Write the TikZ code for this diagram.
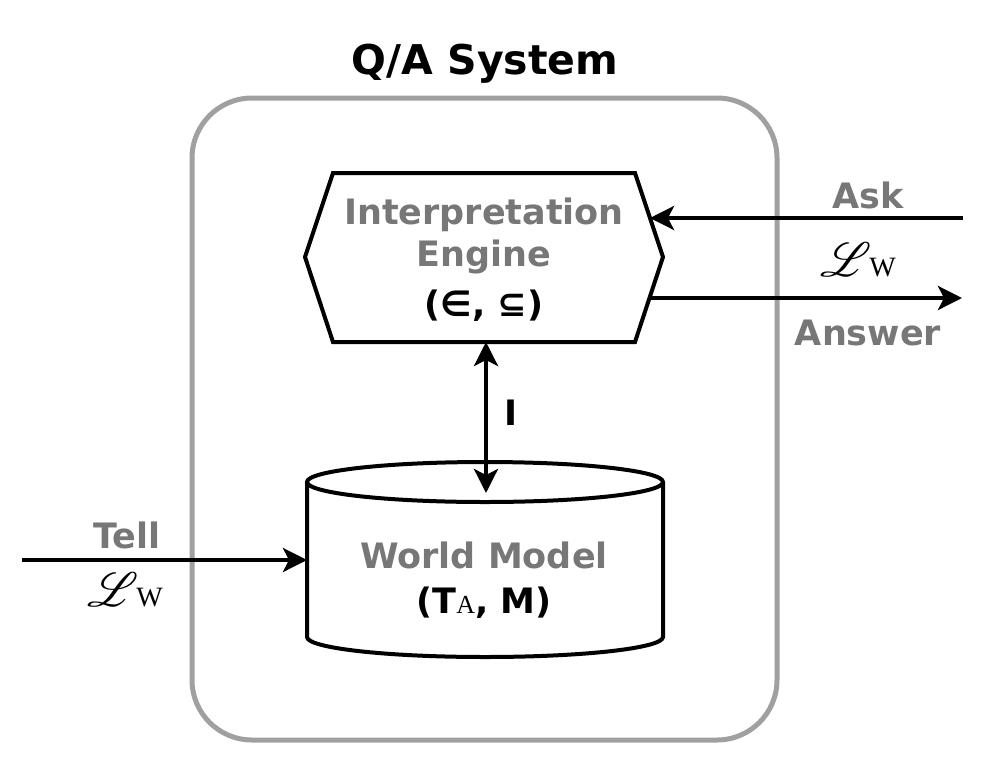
\documentclass[tikz,border=0pt]{standalone}
\usepackage{fontspec}
\usepackage{mathrsfs}
\usepackage{graphicx}
\setmainfont{DejaVu Sans}
\newfontfamily\serifw{Liberation Serif}
\usetikzlibrary{arrows.meta}
\definecolor{txtgray}{HTML}{777777}
\definecolor{boxgray}{HTML}{A0A0A0}
\tikzset{
  conn/.style={line width=2pt, -{Stealth[length=12pt,width=12pt,inset=3pt]}},
  biconn/.style={line width=2pt, {Stealth[length=12pt,width=12pt,inset=3pt]}-{Stealth[length=12pt,width=12pt,inset=3pt]}},
  shapeline/.style={line width=2pt, line join=miter},
  lbl/.style={font=\bfseries\fontsize{17.5}{21}\selectfont, text=txtgray, anchor=base, inner sep=0pt},
  blk/.style={font=\bfseries\fontsize{17.5}{21}\selectfont, text=black, anchor=base, inner sep=0pt},
  titlestyle/.style={font=\bfseries\fontsize{20.5}{24}\selectfont, text=black, anchor=base, inner sep=0pt},
  lang/.style={anchor=base, inner sep=0pt},
}
\newcommand{\LW}{\scalebox{2.4}{$\mathscr{L}$}\kern-1pt{\serifw\fontsize{14}{14}\selectfont W}}
\begin{document}
\begin{tikzpicture}[x=0.5pt,y=-0.5pt]
\useasboundingbox (0,0) rectangle (998,762);
% outer system box
\draw[boxgray, line width=2.5pt, rounded corners=30pt] (192,98) rectangle (777,740);
\node[titlestyle] (title) at (485,74) {Q/A System};
% interpretation engine (hexagon)
\draw[shapeline] (333,173) -- (635,173) -- (663,257) -- (635,342) -- (333,342) -- (305,257) -- cycle;
\node[lbl] (ie1) at (484,224) {Interpretation};
\node[lbl] (ie2) at (484,266) {Engine};
\node[blk] (ie3) at (484,316) {(∈, ⊆)};
% world model (cylinder)
\draw[shapeline] (307,482) -- (307,637) arc[start angle=180,end angle=0,x radius=178,y radius=20] -- (663,482);
\draw[shapeline] (485,482) ellipse[x radius=178, y radius=20];
\node[lbl] (wm1) at (484,568) {World Model};
\node[blk] (wm2) at (484,613) {(T{\serifw\mdseries\fontsize{13}{13}\selectfont A}, M)};
% connection points
\coordinate (askin) at (650,218);
\coordinate (askfrom) at (963,218);
\coordinate (ansout) at (650,298);
\coordinate (ansto) at (962,298);
\coordinate (hexbot) at (486,342);
\coordinate (cyltop) at (486,493);
\coordinate (tellfrom) at (22,560);
\coordinate (cylleft) at (307,560);
% connectors
\draw[conn] (askfrom) -- (askin);
\draw[conn] (ansout) -- (ansto);
\draw[biconn] (hexbot) -- (cyltop);
\draw[conn] (tellfrom) -- (cylleft);
% labels
\node[blk] (ilbl) at (511,425) {I};
\node[lbl] (ask) at (868,208) {Ask};
\node[lang] (lw1) at (858,276) {\LW};
\node[lbl] (answer) at (868,345) {Answer};
\node[lbl] (tell) at (127,548) {Tell};
\node[lang] (lw2) at (125,606) {\LW};
\end{tikzpicture}
\end{document}
